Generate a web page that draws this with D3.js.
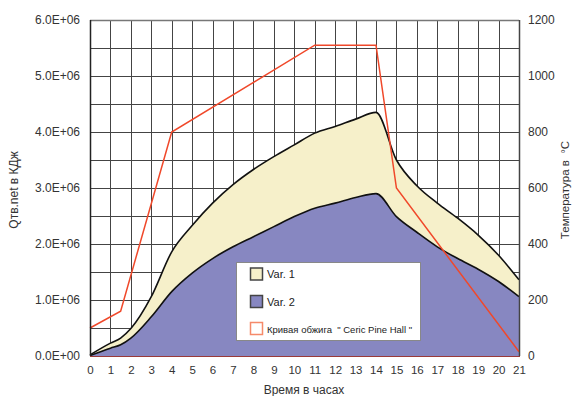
<!DOCTYPE html>
<html><head><meta charset="utf-8">
<script src="https://cdn.jsdelivr.net/npm/d3@7"></script>
<style>body{margin:0;background:#fff}svg{display:block}text{font-family:"Liberation Sans",Arial,sans-serif;white-space:pre}</style>
</head><body>
<svg id="c" width="572" height="396"></svg>
<script>
// Data
const hours = [0,1,1.5,2,3,4,5,6,7,8,9,10,11,12,13,14,15,16,17,18,19,20,21];
const var1 = [0.02,0.23,0.32,0.49,1.06,1.86,2.33,2.73,3.06,3.33,3.56,3.77,3.98,4.10,4.23,4.35,3.50,3.04,2.73,2.46,2.16,1.80,1.36].map(v=>v*1e6);
const var2 = [0.01,0.14,0.20,0.32,0.70,1.15,1.48,1.74,1.95,2.13,2.31,2.49,2.64,2.73,2.83,2.90,2.49,2.21,1.95,1.74,1.55,1.33,1.06].map(v=>v*1e6);
const tempHours = [0,1.5,4,11,14,15,21];
const tempValues = [100,160,800,1110,1110,600,15];
const xTicks = d3.range(0,22);
const yLeftTicks = [0,1e6,2e6,3e6,4e6,5e6,6e6];
const yRightTicks = [0,200,400,600,800,1000,1200];
const legendLabels = ["Var. 1","Var. 2","Кривая обжига  \" Ceric Pine Hall \""];

const svg = d3.select("#c");
const L=90,R=519,T=20,B=356;
const x = d3.scaleLinear().domain([0,21]).range([L,R]);
const y = d3.scaleLinear().domain([0,6e6]).range([B,T]);
const y2 = d3.scaleLinear().domain([0,1200]).range([B,T]);

// grid
const g = svg.append("g");
g.selectAll("line.v").data(xTicks).join("line")
  .attr("x1",d=>Math.round(x(d))+0.5).attr("x2",d=>Math.round(x(d))+0.5)
  .attr("y1",T).attr("y2",B).attr("stroke","#444").attr("stroke-width",1);
g.selectAll("line.h").data(d3.range(0,6.01e6,0.5e6)).join("line")
  .attr("y1",d=>Math.round(y(d))+0.5).attr("y2",d=>Math.round(y(d))+0.5)
  .attr("x1",L).attr("x2",R).attr("stroke","#444").attr("stroke-width",1);

const pts1 = hours.map((h,i)=>[h,var1[i]]);
const pts2 = hours.map((h,i)=>[h,var2[i]]);
const area = d3.area().x(d=>x(d[0])).y0(B).y1(d=>y(d[1])).curve(d3.curveMonotoneX);
const line = d3.line().x(d=>x(d[0])).y(d=>y(d[1])).curve(d3.curveMonotoneX);
svg.append("path").attr("d",area(pts1)).attr("fill","#F6F0CA");
svg.append("path").attr("d",line(pts1)).attr("fill","none").attr("stroke","#111").attr("stroke-width",1.6);
svg.append("path").attr("d",area(pts2)).attr("fill","#8787C1");
svg.append("path").attr("d",line(pts2)).attr("fill","none").attr("stroke","#111").attr("stroke-width",1.6);

// temperature line
const tl = d3.line().x(d=>x(d[0])).y(d=>y2(d[1]));
svg.append("path").attr("d",tl(tempHours.map((h,i)=>[h,tempValues[i]])))
  .attr("fill","none").attr("stroke","#F0482A").attr("stroke-width",1.5);

// frame
svg.append("line").attr("x1",L).attr("x2",R).attr("y1",T+0.5).attr("y2",T+0.5).attr("stroke","#777").attr("stroke-width",1.5);
svg.append("line").attr("x1",L+0.5).attr("x2",L+0.5).attr("y1",T).attr("y2",B).attr("stroke","#222").attr("stroke-width",1.5);
svg.append("line").attr("x1",R+0.5).attr("x2",R+0.5).attr("y1",T).attr("y2",B).attr("stroke","#444").attr("stroke-width",1.5);
svg.append("line").attr("x1",L).attr("x2",R+1).attr("y1",B+0.5).attr("y2",B+0.5).attr("stroke","#9A3A3A").attr("stroke-width",1.2);

// axes
const fmt = d=>(d/1e6).toFixed(1)+"E+06";
const fmtL = d=> d===0 ? "0.0E+00" : fmt(d);
const ax = svg.append("g").attr("transform",`translate(0,${B})`)
  .call(d3.axisBottom(x).tickValues(xTicks).tickSize(0).tickPadding(10).tickFormat(d3.format("d")));
const ayl = svg.append("g").attr("transform",`translate(${L},0)`)
  .call(d3.axisLeft(y).tickValues(yLeftTicks).tickSize(0).tickPadding(10).tickFormat(fmtL));
const ayr = svg.append("g").attr("transform",`translate(${R},0)`)
  .call(d3.axisRight(y2).tickValues(yRightTicks).tickSize(0).tickPadding(9).tickFormat(d3.format("d")));
[ax,ayl,ayr].forEach(a=>{a.select(".domain").remove();a.selectAll("text").attr("fill","#333").attr("font-family","Liberation Sans, Arial, sans-serif");});
ax.selectAll("text").attr("font-size",11.5);
ayl.selectAll("text").attr("font-size",12);
ayr.selectAll("text").attr("font-size",12);

svg.append("text").attr("x",304).attr("y",394).attr("text-anchor","middle").attr("font-size",12).attr("fill","#333").text("Время в часах");
svg.append("text").attr("transform","translate(18,190) rotate(-90)").attr("text-anchor","middle").attr("font-size",12).attr("fill","#333").text("Qтв.net в КДж");
svg.append("text").attr("transform","translate(569,190) rotate(-90)").attr("text-anchor","middle").attr("font-size",11.5).attr("fill","#333").text("Температура в  °C");

// legend
const lg = svg.append("g");
lg.append("rect").attr("x",236.5).attr("y",262.5).attr("width",184).attr("height",78).attr("fill","#fff").attr("stroke","#888");
const sw = [{f:"#F6F0CA",s:"#444"},{f:"#8787C1",s:"#444"},{f:"#fff",s:"#F58A6A"}];
const ly = [274,301.5,328.5];
legendLabels.forEach((t,i)=>{
  lg.append("rect").attr("x",250.5).attr("y",ly[i]-6).attr("width",12).attr("height",12).attr("fill",sw[i].f).attr("stroke",sw[i].s).attr("stroke-width",1.5);
  lg.append("text").attr("x",267).attr("y",ly[i]+4).attr("font-size",i<2?11:9.5).attr("fill","#222").text(t);
});
</script>
</body></html>
